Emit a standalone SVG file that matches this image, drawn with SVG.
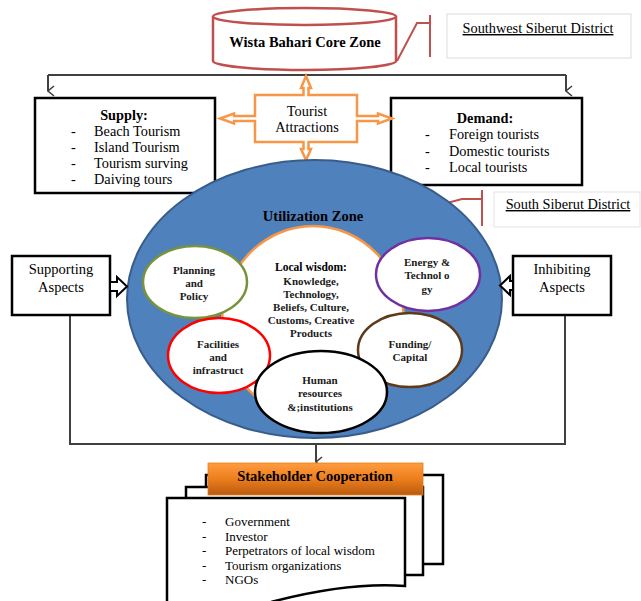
<svg xmlns="http://www.w3.org/2000/svg" width="641" height="601" viewBox="0 0 641 601">
<defs>
<style>
text{font-family:"Liberation Serif","Times New Roman",serif;fill:#000}
.t{font-size:14.3px}
.b{font-weight:bold}
.c{text-anchor:middle}
.s{font-size:11px;font-weight:bold;text-anchor:middle;fill:#1a1a1a}
.box{fill:#fff;stroke:#000;stroke-width:2.5}
.conn{fill:none;stroke:#404040;stroke-width:2}
.red{fill:none;stroke:#c0504d;stroke-width:2}
.circ{fill:#fff;stroke-width:2.5}
.doc{fill:#fff;stroke:#000;stroke-width:2.5}
</style>
<marker id="ah" viewBox="0 0 12 12" refX="6" refY="11" markerWidth="12" markerHeight="12" markerUnits="userSpaceOnUse" orient="auto-start-reverse">
<path d="M1,5 L6,11 L11,5" fill="none" stroke="#404040" stroke-width="1.6"/>
</marker>
<linearGradient id="og" x1="0" y1="0" x2="0" y2="1">
<stop offset="0" stop-color="#ff9c40"/>
<stop offset="0.5" stop-color="#ec7e1c"/>
<stop offset="1" stop-color="#b95a10"/>
</linearGradient>
</defs>
<rect width="641" height="601" fill="#fff"/>

<g id="connectors">
<path class="conn" d="M48,75 H566"/>
<path class="conn" d="M48,75 V91" marker-end="url(#ah)"/>
<path class="conn" d="M566,75 V91" marker-end="url(#ah)"/>
<path class="conn" d="M70,315 V444 H565 V315"/>
<path class="conn" d="M316,444 V462" marker-end="url(#ah)"/>
<path class="red" d="M397,61 L417,23 H430 M430,15 V57"/>
<path class="red" d="M398,216 L462,199 H482 M482,190 V226"/>
</g>

<g id="core-zone">
<path d="M213,16.5 V61 A91.5,9 0 0 0 396,61 V16.5" fill="#fff" stroke="#c0504d" stroke-width="2.5"/>
<ellipse cx="304.5" cy="16.5" rx="91.5" ry="8.5" fill="#fff" stroke="#c0504d" stroke-width="2.5"/>
<text x="305" y="47" class="t b c" style="font-size:14.5px">Wista Bahari Core Zone</text>
</g>

<g id="southwest-district">
<rect x="447" y="14" width="184" height="44" fill="#fff" stroke="#dcdcdc" stroke-width="1"/>
<text x="538" y="33" class="t c" text-decoration="underline">Southwest Siberut District</text>
</g>

<g id="supply">
<rect class="box" x="35" y="98" width="180" height="95"/>
<text x="124" y="120" class="t b c">Supply:</text>
<text class="t" x="71" y="136">-</text><text class="t" x="94" y="136">Beach Tourism</text>
<text class="t" x="71" y="152">-</text><text class="t" x="94" y="152">Island Tourism</text>
<text class="t" x="71" y="168">-</text><text class="t" x="94" y="168">Tourism surving</text>
<text class="t" x="71" y="184">-</text><text class="t" x="94" y="184">Daiving tours</text>
</g>

<g id="demand">
<rect class="box" x="391" y="98" width="191" height="87"/>
<text x="485" y="123" class="t b c">Demand:</text>
<text class="t" x="425" y="139">-</text><text class="t" x="449" y="139">Foreign tourists</text>
<text class="t" x="425" y="155.5">-</text><text class="t" x="449" y="155.5">Domestic tourists</text>
<text class="t" x="425" y="172">-</text><text class="t" x="449" y="172">Local tourists</text>
</g>

<g id="tourist-attractions">
<path d="M255,95 L303.5,95 L303.5,88 L301,88 L306,76 L311,88 L308.5,88 L308.5,95 L357,95 L357,116 L378,116 L378,113.5 L392,118.5 L378,123.5 L378,121 L357,121 L357,142 L308.5,142 L308.5,149 L311,149 L306,160 L301,149 L303.5,149 L303.5,142 L255,142 L255,121 L234,121 L234,123.5 L220,118.5 L234,113.5 L234,116 L255,116 Z" fill="#fff" stroke="#f79646" stroke-width="2.5" stroke-linejoin="miter"/>
<text x="307" y="116" class="t c">Tourist</text>
<text x="307" y="132" class="t c">Attractions</text>
</g>

<g id="south-district">
<rect x="494" y="192" width="146" height="35" fill="#fff" stroke="#e3e3e3" stroke-width="1"/>
<text x="568" y="209" class="t c" text-decoration="underline">South Siberut District</text>
</g>

<g id="utilization-zone">
<ellipse cx="314.5" cy="299" rx="187.5" ry="139" fill="#4f81bd" stroke="#385d8a" stroke-width="2"/>
<text x="313" y="221" class="t b c" style="font-size:14.5px">Utilization Zone</text>
</g>

<g id="local-wisdom">
<ellipse cx="313" cy="322" rx="91" ry="96" fill="#fff" stroke="#f79646" stroke-width="2.5"/>
<text x="311" y="271" class="s" style="font-size:11.5px;fill:#000">Local wisdom:</text>
<text x="311" y="285" class="s">Knowledge,</text>
<text x="311" y="298" class="s">Technology,</text>
<text x="311" y="311" class="s">Beliefs, Culture,</text>
<text x="311" y="324" class="s">Customs, Creative</text>
<text x="311" y="337" class="s">Products</text>
</g>

<g id="planning-policy">
<ellipse class="circ" cx="195" cy="282" rx="52" ry="36" stroke="#77933c"/>
<text x="194" y="274" class="s">Planning</text>
<text x="194" y="287" class="s">and</text>
<text x="194" y="300" class="s">Policy</text>
</g>

<g id="energy-technology">
<ellipse class="circ" cx="428" cy="274.5" rx="52" ry="36.5" stroke="#7030a0"/>
<text x="427" y="266" class="s">Energy &amp;</text>
<text x="427" y="279" class="s">Technol o</text>
<text x="427" y="293" class="s">gy</text>
</g>

<g id="facilities">
<ellipse class="circ" cx="219" cy="355.5" rx="51" ry="37.5" stroke="#ff0000"/>
<text x="218" y="348" class="s">Facilities</text>
<text x="218" y="361" class="s">and</text>
<text x="218" y="374" class="s">infrastruct</text>
</g>

<g id="funding">
<ellipse class="circ" cx="410" cy="350" rx="52" ry="37" stroke="#5e3a1a"/>
<text x="410" y="348" class="s">Funding/</text>
<text x="410" y="361" class="s">Capital</text>
</g>

<g id="human-resources">
<ellipse class="circ" cx="321" cy="392" rx="66" ry="41" stroke="#000"/>
<text x="320" y="384" class="s">Human</text>
<text x="320" y="397" class="s">resources</text>
<text x="320" y="411" class="s">&amp;;institutions</text>
</g>

<g id="supporting">
<rect class="box" x="12" y="256" width="98" height="59"/>
<text x="61" y="274" class="t c" style="font-size:14.5px">Supporting</text>
<text x="61" y="292" class="t c" style="font-size:14.5px">Aspects</text>
<path d="M110,282 H117 V277 L127,286.5 L117,296 V291 H110 Z" fill="#fff" stroke="#000" stroke-width="2" stroke-linejoin="miter"/>
</g>

<g id="inhibiting">
<rect class="box" x="513" y="256" width="98" height="59"/>
<text x="562" y="274" class="t c" style="font-size:14.5px">Inhibiting</text>
<text x="562" y="292" class="t c" style="font-size:14.5px">Aspects</text>
<path d="M513,281 H510 V276 L500,285.5 L510,295 V290 H513 Z" fill="#fff" stroke="#000" stroke-width="2" stroke-linejoin="miter"/>
</g>

<g id="stakeholder-cooperation">
<rect class="doc" x="206" y="475" width="237" height="89"/>
<rect class="doc" x="186" y="487" width="237" height="88"/>
<path class="doc" d="M167,640 L167,498 L405,498 L405,586 C365,583 322,589 275,601 C235,612 200,626 167,640 Z"/>
<rect x="208" y="463" width="215" height="32" fill="url(#og)" stroke="#e0801e" stroke-width="0.8"/>
<text x="315" y="481" class="t b c" style="font-size:14.5px">Stakeholder Cooperation</text>
<text x="202" y="526" style="font-size:13px">-</text><text x="225" y="526" style="font-size:13px">Government</text>
<text x="202" y="541" style="font-size:13px">-</text><text x="225" y="541" style="font-size:13px">Investor</text>
<text x="202" y="555" style="font-size:13px">-</text><text x="225" y="555" style="font-size:13px">Perpetrators of local wisdom</text>
<text x="202" y="570" style="font-size:13px">-</text><text x="225" y="570" style="font-size:13px">Tourism organizations</text>
<text x="202" y="584" style="font-size:13px">-</text><text x="225" y="584" style="font-size:13px">NGOs</text>
</g>
</svg>
